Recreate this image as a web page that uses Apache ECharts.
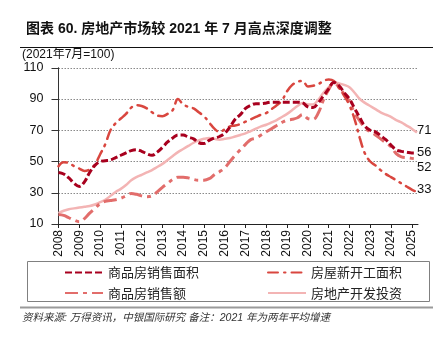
<!DOCTYPE html>
<html><head><meta charset="utf-8">
<script src="https://cdn.jsdelivr.net/npm/echarts@6/dist/echarts.min.js"></script>
<style>html,body{margin:0;padding:0;background:#fff}#c{width:447px;height:348px}</style>
</head><body><div id="c"></div>
<script>
// Quarterly time points, 2008Q1 .. 2025Q2
const quarters = Array.from({length: 70}, (_, i) => 2008 + i * 0.25);
const yearTicks = [2008,2009,2010,2011,2012,2013,2014,2015,2016,2017,2018,2019,2020,2021,2022,2023,2024,2025];

const seriesNames = ['商品房销售面积', '房屋新开工面积', '商品房销售额', '房地产开发投资'];
const endLabels = ['56', '33', '52', '71'];

// 商品房销售面积
const salesArea = [
  43, 42, 39.5, 36,
  34, 37, 43, 47.5,
  50, 50.5, 51, 52.5,
  54, 55.5, 57, 57.5,
  56.5, 55, 54, 56,
  59, 62.5, 65, 67,
  67, 65.5, 64.5, 62,
  61.5, 63.5, 65, 66,
  68, 72, 77, 80,
  84, 86, 87, 87,
  87.5, 88, 88, 88,
  88, 88, 88, 87.5,
  85, 84.5, 87.5, 92,
  96.5, 100.5, 98.5, 94,
  90, 84, 78, 72.5,
  70, 69, 66.5, 64,
  60.5, 57.5, 56.5, 56,
  55.5, 55.5
];
// 房屋新开工面积
const newStarts = [
  47, 49.5, 49, 47,
  45.5, 44, 45, 48,
  54.5, 61, 70, 74.5,
  77.5, 80.5, 84.5, 86,
  85.5, 84, 81.5, 79.5,
  79, 80.5, 83, 90,
  86.5, 85, 84, 81.5,
  79, 75, 71, 69,
  70.5, 72.5, 73, 74,
  75.5, 77, 78.5, 80,
  81, 83.5, 86, 89,
  95, 99, 101, 101.5,
  98, 98.5, 99.5, 101.5,
  102.5, 101.5, 97, 92,
  86, 77, 65, 55,
  50, 47.5, 44.5, 42,
  40, 38, 36, 34,
  32, 30.5
];
// 商品房销售额
const salesValue = [
  16, 15.5, 14, 12.5,
  11.5, 13.5, 17, 20,
  23, 24.5, 25, 25.5,
  26.5, 28, 29.5, 29,
  28, 27.5, 28, 30.5,
  33.5, 36, 38.5, 40,
  40, 39.5, 38.5, 38,
  38, 39, 41.5, 43.5,
  46, 50, 54, 57.5,
  61, 64, 65, 67,
  69, 71, 73, 75,
  76.5, 77, 78, 80,
  77.5, 77, 81, 89.5,
  96, 100.5, 97.5, 93,
  88.5, 81, 76, 71.5,
  69, 67, 64.5, 62,
  59.5, 55, 53, 52.5,
  52, 51.5
];
// 房地产开发投资
const investment = [
  17, 18.5, 19.5, 20,
  20.5, 21, 21.5, 22.5,
  24, 25.5, 28, 30.5,
  32.5, 35, 38, 40,
  41.5, 43, 44.5, 46.5,
  48.5, 51, 53.5, 56,
  58, 60, 62, 63.5,
  64.5, 65, 64.5, 64,
  64.5, 65, 66, 67,
  68, 69.5, 71, 72.5,
  73.5, 75, 76.5, 78.5,
  80.5, 83, 85.5, 87.5,
  86.5, 86.5, 89.5, 94,
  97.5, 100.5, 100, 99,
  97.5, 94, 90, 87.5,
  85.5, 83.5, 81.5, 80,
  78.5, 76.5, 75, 73,
  71, 68.5
];

const valuesList = [salesArea, newStarts, salesValue, investment];
const colors = ['#A8001E', '#D9463F', '#E26D6B', '#F3B4B4'];
const lineStyles = [
  {width: 3, type: [7, 3]},
  {width: 2.5, type: [10, 6, 1.5, 6], cap: 'round'},
  {width: 3, type: [13, 5, 4, 5]},
  {width: 2.5, type: 'solid'}
];
const labelOffsets = [[-8, 0], [-8, -3], [-8, 8], [-8, -2]];
const zOrder = [4, 3, 2, 1];

const NUM = "'Liberation Sans', 'Noto Sans CJK SC', sans-serif";
const CJK = "'Noto Sans CJK SC', sans-serif";

const chart = echarts.init(document.getElementById('c'), null, {renderer: 'canvas'});

const series = seriesNames.map((name, k) => ({
  name,
  type: 'line',
  data: quarters.map((t, i) => [t, valuesList[k][i]]),
  smooth: 0.4,
  symbol: 'none',
  z: zOrder[k],
  lineStyle: Object.assign({color: colors[k]}, lineStyles[k]),
  itemStyle: {color: colors[k]},
  endLabel: {
    show: true,
    formatter: () => endLabels[k],
    color: '#111',
    fontSize: 13,
    fontFamily: NUM,
    offset: labelOffsets[k]
  }
}));

const legendCommon = {
  orient: 'vertical', top: 261,
  itemWidth: 38, itemHeight: 14, itemGap: 7.5,
  itemStyle: {opacity: 0},
  textStyle: {fontSize: 13, color: '#222', fontFamily: CJK},
  selectedMode: false
};

chart.setOption({
  animation: false,
  title: {
    text: '图表 60. 房地产市场较 2021 年 7 月高点深度调整',
    left: 21, top: 17,
    textStyle: {fontSize: 14, fontWeight: 'bold', color: '#111', fontFamily: NUM}
  },
  grid: {left: 58.5, right: 29, top: 67.75, bottom: 124},
  xAxis: {
    type: 'value',
    min: 2008, max: 2025.3,
    splitLine: {show: false},
    axisLine: {lineStyle: {color: '#222', width: 1}},
    axisTick: {show: true, length: 4, customValues: yearTicks, lineStyle: {color: '#222'}},
    axisLabel: {
      customValues: yearTicks,
      rotate: 90, margin: 6,
      color: '#111', fontSize: 12, fontFamily: NUM,
      formatter: v => String(v)
    }
  },
  yAxis: {
    type: 'value',
    min: 10, max: 110, interval: 20,
    axisLine: {show: true, lineStyle: {color: '#333'}},
    axisTick: {show: true, length: 7, lineStyle: {color: '#333'}},
    axisLabel: {color: '#111', fontSize: 12.5, fontFamily: NUM, margin: 15},
    splitLine: {show: true, lineStyle: {color: '#8a8a8a', type: [1.5, 1.5], width: 1}}
  },
  legend: [
    Object.assign({left: 59, data: [seriesNames[0], seriesNames[2]]}, legendCommon),
    Object.assign({left: 262, data: [seriesNames[1], seriesNames[3]]}, legendCommon)
  ],
  graphic: [
    {type: 'line', shape: {x1: 20, y1: 47.5, x2: 433, y2: 47.5}, style: {stroke: '#111', lineWidth: 1}},
    {type: 'text', left: 22, top: 49, style: {text: '(2021年7月=100)', fontSize: 12, fill: '#111', fontFamily: NUM}},
    {type: 'rect', shape: {x: 27.5, y: 261.5, width: 402, height: 40}, style: {fill: 'none', stroke: '#808080', lineWidth: 1}},
    {type: 'line', shape: {x1: 20, y1: 307.5, x2: 433, y2: 307.5}, style: {stroke: '#9a9a9a', lineWidth: 2}},
    {type: 'text', left: 22, top: 313, style: {text: '资料来源: 万得资讯，中银国际研究 备注：2021 年为两年平均增速', fontSize: 10.5, fontStyle: 'italic', fill: '#333', fontFamily: NUM}}
  ],
  series
});
</script></body></html>
